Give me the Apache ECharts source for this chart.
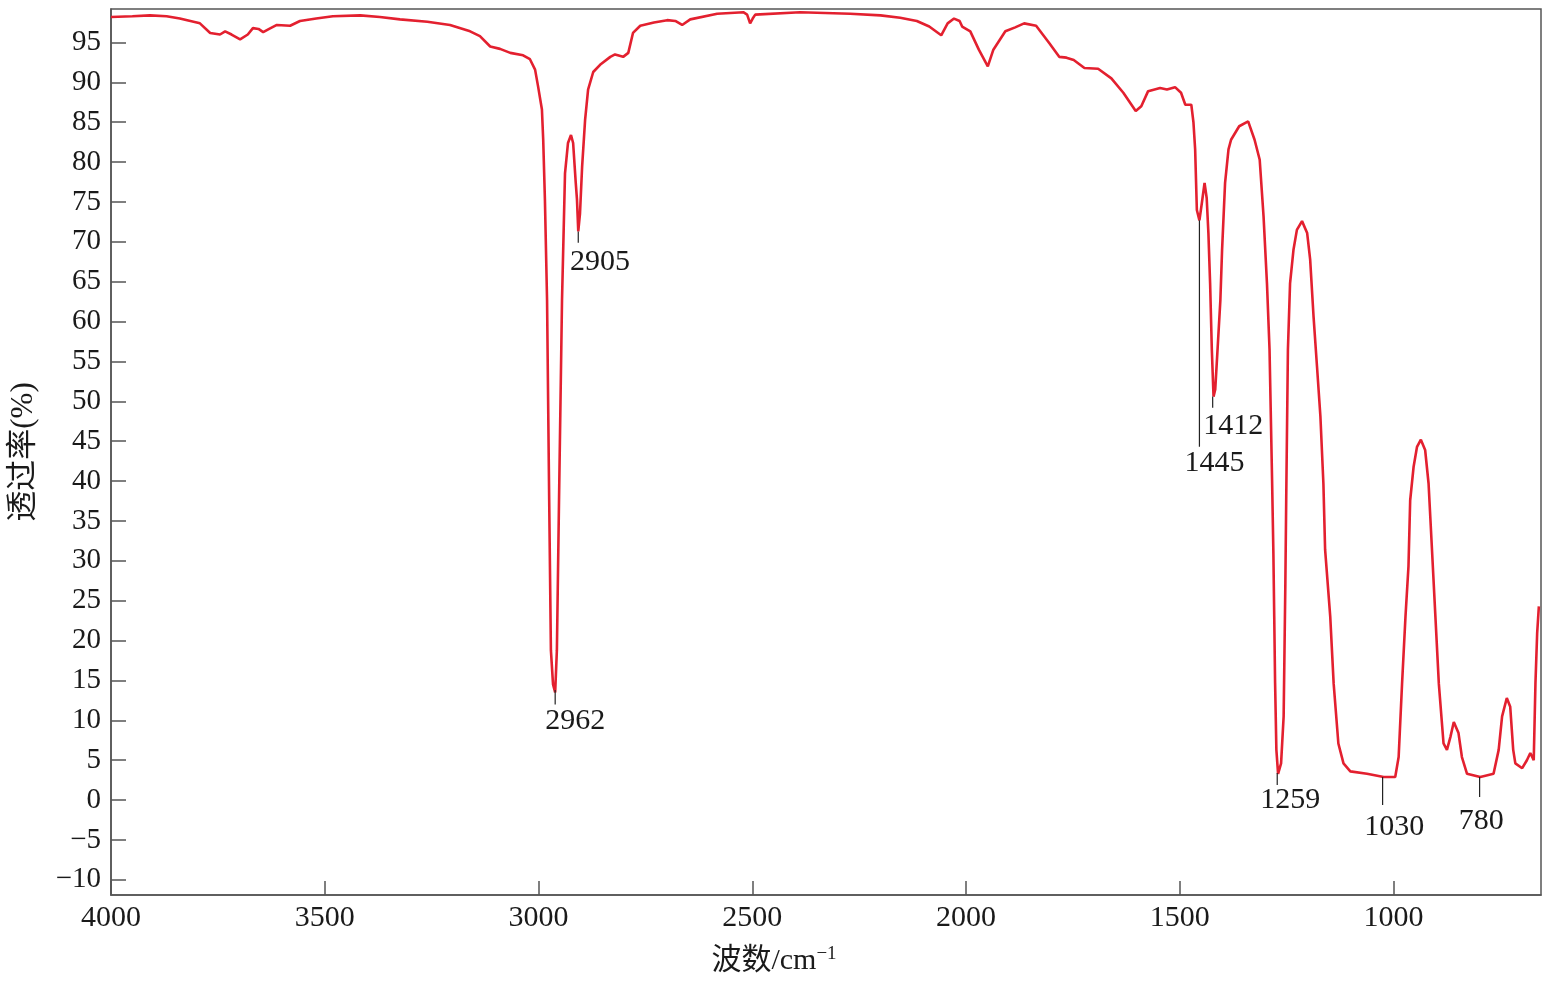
<!DOCTYPE html>
<html>
<head>
<meta charset="utf-8">
<script src="https://cdn.jsdelivr.net/npm/echarts@6/dist/echarts.min.js"></script>
<style>html,body{margin:0;padding:0;background:#fff;}#c{width:1545px;height:987px;}</style>
</head>
<body>
<div id="c"></div>
<script>
// Wavenumber (cm^-1), transmittance (%)
var wavenumbers = [4000,3950,3909,3870,3839,3792,3768,3745,3733,3718,3698,3680,3668,3655,3644,3630,3612,3581,3558,3520,3481,3417,3371,3324,3260,3207,3160,3137,3113,3090,3066,3036,3020,3008,3001,2992,2989,2985,2980,2975,2971,2966,2961,2957,2952,2945,2938,2931,2924,2919,2913,2910,2907,2903,2898,2891,2884,2872,2856,2832,2821,2802,2790,2779,2762,2730,2699,2680,2664,2645,2582,2521,2512,2505,2499,2493,2388,2271,2200,2154,2115,2086,2058,2043,2028,2015,2009,1990,1970,1949,1936,1908,1885,1864,1836,1805,1782,1765,1748,1723,1691,1660,1632,1603,1590,1574,1546,1530,1511,1497,1487,1473,1468,1464,1460,1454,1448,1442,1437,1433,1429,1425,1421,1417,1413,1405,1401,1394,1386,1380,1361,1340,1325,1313,1304,1296,1290,1284,1281,1279,1277,1274,1270,1263,1257,1255,1253,1251,1247,1242,1234,1226,1214,1202,1195,1187,1179,1171,1164,1160,1148,1140,1129,1117,1101,1062,1023,996,988,980,972,965,961,953,945,936,926,918,910,902,894,883,875,867,859,848,840,828,797,766,754,746,735,727,720,715,699,688,680,672,668,664,660];
var transmittance = [98.2,98.3,98.4,98.3,98.0,97.4,96.2,96.0,96.4,96.0,95.4,96.0,96.8,96.7,96.3,96.7,97.2,97.1,97.7,98.0,98.3,98.4,98.2,97.9,97.6,97.2,96.4,95.8,94.5,94.2,93.7,93.4,92.9,91.6,89.5,86.6,82.8,75.3,62.7,37.6,18.8,14.5,13.5,18.8,37.6,62.7,78.6,82.4,83.4,82.4,77.5,75.3,71.3,73.5,79.4,85.3,89.1,91.3,92.2,93.2,93.5,93.2,93.7,96.2,97.1,97.5,97.8,97.7,97.2,97.9,98.6,98.8,98.5,97.4,98.0,98.5,98.8,98.6,98.4,98.1,97.7,97.0,95.9,97.4,98.0,97.7,97.0,96.4,94.1,92.0,94.1,96.4,96.9,97.4,97.1,94.9,93.2,93.1,92.8,91.8,91.7,90.5,88.7,86.4,87.0,88.9,89.3,89.1,89.4,88.7,87.2,87.2,85.0,81.6,74.0,72.7,75.0,77.4,75.5,71.1,64.8,56.5,50.6,51.5,55.2,62.7,69.0,77.4,81.6,82.8,84.5,85.1,82.8,80.3,73.2,64.8,56.5,40.0,31.0,23.0,14.7,6.3,3.3,4.6,10.5,18.8,27.2,37.6,56.5,64.8,69.0,71.5,72.6,71.1,67.8,60.6,54.4,48.1,39.7,31.4,23.0,14.6,7.1,4.6,3.6,3.3,2.9,2.9,5.4,14.6,23.0,29.3,37.6,41.8,44.3,45.2,43.9,39.7,31.4,23.0,14.6,7.1,6.3,7.9,9.8,8.4,5.4,3.3,2.9,3.3,6.3,10.5,12.8,11.7,6.3,4.6,4.0,5.0,5.9,5.0,14.6,20.9,24.3];

var xTicks = [1000,1500,2000,2500,3000,3500,4000];
var yTicks = [-10,-5,0,5,10,15,20,25,30,35,40,45,50,55,60,65,70,75,80,85,90,95];

// Peak annotations: label text, leader line x, leader top/bottom y, text anchor (x,y)
var peakLabels  = ['2962','2905','1445','1412','1259','1030','780'];
var peakLineX   = [2961, 2907, 1454, 1423, 1272, 1025.5, 798.6];
var peakLineTop = [13.8, 71.3, 72.7, 50.6, 3.4, 2.9, 2.9];
var peakLineBot = [12.0, 69.9, 44.3, 49.2, 1.9, -0.6, 0.4];
var peakTextX   = [2914, 2856, 1419, 1375, 1241.5, 998, 794.6];
var peakTextY   = [9.9, 67.4, 42.2, 46.9, 0.0, -3.4, -2.6];

var FONT = "'Liberation Serif','DejaVu Serif','Noto Sans CJK SC',serif";

var spectrum = wavenumbers.map(function (w, i) { return [w, transmittance[i]]; });

var series = [{
  type: 'line', data: spectrum, showSymbol: false, symbol: 'none',
  lineStyle: { color: '#e3202f', width: 2.6 }, z: 3, silent: true
}];
peakLabels.forEach(function (t, i) {
  series.push({
    type: 'line', symbol: 'none', silent: true, z: 4,
    lineStyle: { color: '#222', width: 1.2 },
    data: [[peakLineX[i], peakLineTop[i]], [peakLineX[i], peakLineBot[i]]]
  });
});
series.push({
  type: 'scatter', symbolSize: 1, silent: true, z: 5,
  itemStyle: { opacity: 0 },
  data: peakLabels.map(function (t, i) { return { value: [peakTextX[i], peakTextY[i]], name: t }; }),
  label: { show: true, position: 'inside', formatter: '{b}', color: '#1a1a1a', opacity: 1,
    fontFamily: FONT, fontSize: 30 }
});

var chart = echarts.init(document.getElementById('c'), null, { renderer: 'canvas' });
chart.setOption({
  animation: false,
  backgroundColor: '#fff',
  grid: { left: 111, right: 4, top: 9, bottom: 92, show: true, borderColor: '#555', borderWidth: 1.5, containLabel: false },
  xAxis: {
    type: 'value', inverse: true, min: 655, max: 4000,
    name: '{a|波数/cm}{b|−1}', nameLocation: 'middle', nameGap: 50,
    nameTextStyle: { padding: [0, 104, 0, 0],
      rich: { a: { fontFamily: FONT, fontSize: 30, color: '#1a1a1a' },
              b: { fontFamily: FONT, fontSize: 19, color: '#1a1a1a', verticalAlign: 'top', padding: [0, 0, 14, 0] } } },
    axisLine: { show: true, onZero: false, lineStyle: { color: '#555', width: 1.5 } },
    axisTick: { show: true, inside: true, length: 14, customValues: xTicks, lineStyle: { color: '#555', width: 1.5 } },
    axisLabel: { customValues: xTicks, fontFamily: FONT, fontSize: 30, color: '#1a1a1a', margin: 8,
      formatter: function (v) { return String(v); } },
    splitLine: { show: false }
  },
  yAxis: {
    type: 'value', min: -11.9, max: 99.2,
    name: '透过率(%)', nameLocation: 'middle', nameGap: 72, nameRotate: 90,
    nameTextStyle: { fontFamily: FONT, fontSize: 31, color: '#1a1a1a' },
    axisLine: { show: true, onZero: false, lineStyle: { color: '#555', width: 1.5 } },
    axisTick: { show: true, inside: true, length: 15, customValues: yTicks, lineStyle: { color: '#555', width: 1.5 } },
    axisLabel: { customValues: yTicks, fontFamily: FONT, fontSize: 29, color: '#1a1a1a', margin: 10,
      formatter: function (v) { return v < 0 ? '−' + Math.abs(v) : String(v); } },
    splitLine: { show: false }
  },
  series: series
});
</script>
</body>
</html>
